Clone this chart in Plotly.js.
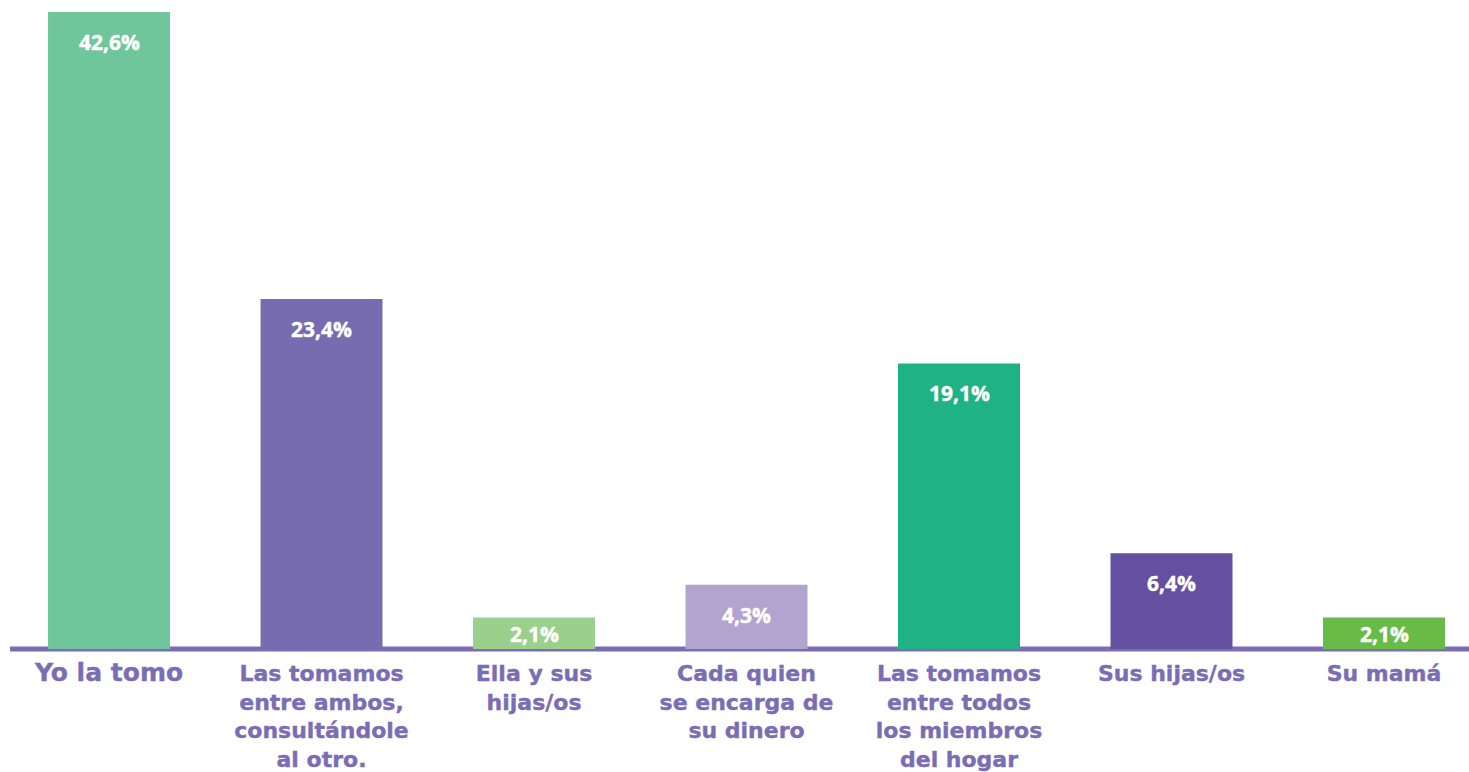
<!DOCTYPE html>
<html>
<head>
<meta charset="utf-8">
<script src="https://cdn.plot.ly/plotly-3.0.1.min.js"></script>
<style>
html,body{margin:0;padding:0;background:#fff;}
#chart{width:1469px;height:772px;}
#chart .xtick text{stroke:#7a6db3;stroke-width:0.4px;}
#chart .annotation-text{stroke:#ffffff;stroke-width:0.4px;}
</style>
</head>
<body>
<div id="chart"></div>
<script>
const categories = [
  "Yo la tomo",
  "Las tomamos entre ambos, consultándole al otro.",
  "Ella y sus hijas/os",
  "Cada quien se encarga de su dinero",
  "Las tomamos entre todos los miembros del hogar",
  "Sus hijas/os",
  "Su mamá"
];
const tickLabels = [
  "<b><span style='font-size:25px'>Yo la tomo</span></b>",
  "<b>Las tomamos<br>entre ambos,<br>consultándole<br>al otro.</b>",
  "<b>Ella y sus<br>hijas/os</b>",
  "<b>Cada quien<br>se encarga de<br>su dinero</b>",
  "<b>Las tomamos<br>entre todos<br>los miembros<br>del hogar</b>",
  "<b>Sus hijas/os</b>",
  "<b>Su mamá</b>"
];
const values = [42.6, 23.4, 2.1, 4.3, 19.1, 6.4, 2.1];
const valueLabels = ["42,6%", "23,4%", "2,1%", "4,3%", "19,1%", "6,4%", "2,1%"];
const barColors = ["#6fc69a", "#786cb1", "#9bd08c", "#b3a4cf", "#1fb383", "#654fa0", "#68bb46"];

const xs = categories.map((c, i) => i);
const pxPerUnit = 649 / 43.4;

const annotations = values.map((v, i) => ({
  x: i, y: v, xref: 'x', yref: 'y',
  text: '<b>' + valueLabels[i] + '</b>', showarrow: false,
  yanchor: 'middle', xanchor: 'center',
  yshift: -Math.min(30, v * pxPerUnit / 2 + 1),
  font: {family: 'Open Sans', size: 21, color: '#ffffff'}
}));

const data = [{
  type: 'bar',
  x: xs,
  y: values,
  marker: {color: barColors},
  width: 0.574,
  hoverinfo: 'none'
}];

const layout = {
  width: 1469, height: 772,
  margin: {l: 10, r: 0, t: 0, b: 123},
  paper_bgcolor: '#ffffff', plot_bgcolor: '#ffffff',
  showlegend: false,
  xaxis: {
    range: [-0.466, 6.4],
    tickmode: 'array', tickvals: xs, ticktext: tickLabels,
    showgrid: false, zeroline: false, showline: false, ticks: '',
    tickangle: 0,
    ticklabelstandoff: 9,
    tickfont: {family: 'DejaVu Sans', size: 22, color: '#7a6db3'}
  },
  yaxis: {
    range: [0, 43.4], visible: false, showgrid: false, zeroline: false, fixedrange: true
  },
  shapes: [{
    type: 'line', xref: 'paper', yref: 'paper', x0: 0, x1: 1, y0: 0, y1: 0,
    line: {color: '#7a6db3', width: 5}, layer: 'below'
  }],
  annotations: annotations
};

Plotly.newPlot('chart', data, layout, {displayModeBar: false, staticPlot: true});
</script>
</body>
</html>
